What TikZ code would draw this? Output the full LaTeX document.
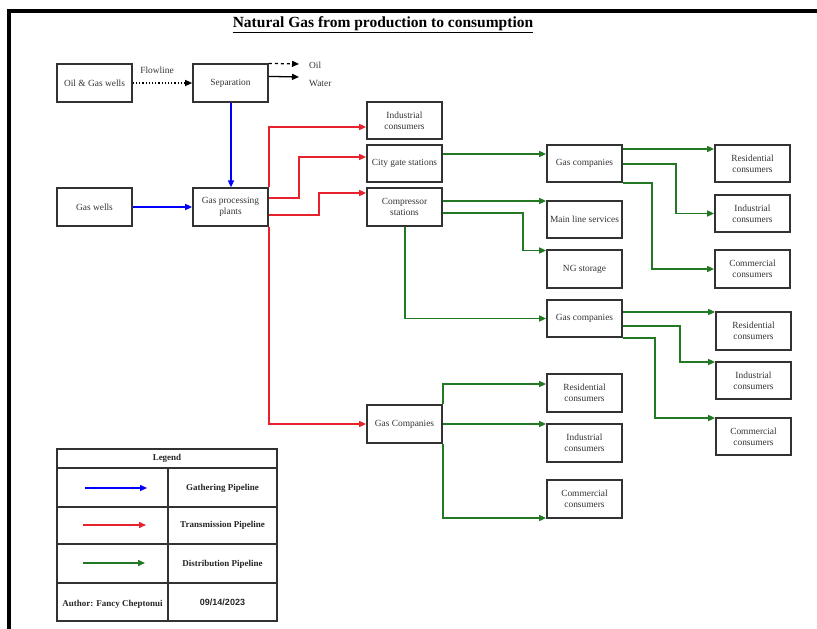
\documentclass[tikz,border=0pt]{standalone}
\usepackage{fontspec}
\setmainfont{Liberation Serif}
\newfontfamily\datefont{Liberation Sans}
\usetikzlibrary{arrows.meta,calc}
\definecolor{bxline}{RGB}{50,50,50}
\definecolor{gblue}{RGB}{0,0,255}
\definecolor{tred}{RGB}{230,35,45}
\definecolor{dgreen}{RGB}{35,120,35}
\tikzset{
  box/.style={draw=bxline, line width=1.7pt, minimum width=75pt, minimum height=37.5pt,
    inner sep=1pt, align=center, font=\fontsize{9.4}{10.8}\selectfont, text=black!80},
  conn/.style={line width=1.5pt, -{Triangle[length=7pt,width=6pt]}},
  gath/.style={conn, draw=gblue},
  trans/.style={conn, draw=tred},
  dist/.style={conn, draw=dgreen},
  lbl/.style={font=\fontsize{9.4}{10.8}\selectfont, text=black!80, inner sep=0pt},
  legtext/.style={font=\bfseries\fontsize{9}{10}\selectfont, text=black!85, inner sep=0pt},
}
\begin{document}
\begin{tikzpicture}[x=1pt,y=-1pt]
\useasboundingbox (0,0) rectangle (817,629);
% frame
\draw[line width=4pt] (817,11.3) -- (6.8,11.3);
\draw[line width=4pt] (8.8,9.3) -- (8.8,629);
% title
\node[font=\bfseries\fontsize{15.5}{17}\selectfont, inner sep=0pt] (title) at (383,25) {\underline{Natural Gas from production to consumption}};
% boxes
\node[box] (ogw) at (94.5,83) {Oil \& Gas wells};
\node[box] (sep) at (230.5,83) {Separation};
\node[box] (gw) at (94.5,207) {Gas wells};
\node[box] (gpp) at (230.5,207) {Gas processing\\plants};
\node[box] (ic1) at (404.5,120.5) {Industrial\\consumers};
\node[box] (cgs) at (404.5,163.5) {City gate stations};
\node[box] (cs) at (404.5,207) {Compressor\\stations};
\node[box] (gc1) at (584.5,163.5) {Gas companies};
\node[box] (res1) at (752.5,163.5) {Residential\\consumers};
\node[box] (ind1) at (752.5,213.5) {Industrial\\consumers};
\node[box] (mls) at (584.5,219.5) {Main line services};
\node[box] (ngs) at (584.5,269) {NG storage};
\node[box] (com1) at (752.5,269) {Commercial\\consumers};
\node[box] (gc2) at (584.5,318.5) {Gas companies};
\node[box] (res2) at (753.5,331) {Residential\\consumers};
\node[box] (ind2) at (753.5,380.5) {Industrial\\consumers};
\node[box] (com2) at (753.5,436.5) {Commercial\\consumers};
\node[box] (gc3) at (404.5,424) {Gas Companies};
\node[box] (res3) at (584.5,393) {Residential\\consumers};
\node[box] (ind3) at (584.5,443) {Industrial\\consumers};
\node[box] (com3) at (584.5,499) {Commercial\\consumers};
% flowline
\draw[line width=1.2pt, dotted, -{Triangle[length=7pt,width=6pt]}] (ogw.east) -- (sep.west);
\node[lbl] (flow) at (157,70) {Flowline};
% oil / water
\coordinate (oilend) at (299,64);
\coordinate (waterend) at (299,77);
\draw[line width=1.3pt, dashed, -{Triangle[length=7pt,width=6pt]}] (sep.north east) -- (oilend);
\draw[line width=1.3pt, -{Triangle[length=7pt,width=6pt]}] ([yshift=-13pt]sep.north east) -- (waterend);
\node[lbl, anchor=west] (oil) at (309,65) {Oil};
\node[lbl, anchor=west] (water) at (309,83) {Water};
% gathering
\draw[gath] ([xshift=0.5pt]sep.south) -- ([xshift=0.5pt]gpp.north);
\draw[gath] (gw.east) -- (gpp.west);
% transmission
\draw[trans] (gpp.north east) |- ([yshift=-6.5pt]ic1.west);
\draw[trans] (gpp.south east) |- (gc3.west);
\draw[trans] ([yshift=9pt]gpp.east) -- ++(30,0) |- ([yshift=6.5pt]cgs.west);
\draw[trans] ([yshift=-8pt]gpp.east) -- ++(50,0) |- ([yshift=14pt]cs.west);
% distribution
\draw[dist] ([yshift=9.5pt]cgs.east) -- ([yshift=9.5pt]gc1.west);
\draw[dist] ([yshift=14.5pt]gc1.east) -- ([yshift=14.5pt]res1.west);
\draw[dist] ([yshift=-0.5pt]gc1.east) -- ++(53,0) |- (ind1.west);
\draw[dist] (gc1.south east) -- ++(29,0) |- (com1.west);
\draw[dist] ([yshift=6pt]cs.east) -- ([yshift=6pt]cs.east -| mls.west);
\draw[dist] ([yshift=-6pt]cs.east) -- ++(80,0) |- ([yshift=18.5pt]ngs.west);
\draw[dist] ([xshift=0.5pt]cs.south) |- (gc2.west);
\draw[dist] ([yshift=6.5pt]gc2.east) -- ([yshift=6.5pt]gc2.east -| res2.west);
\draw[dist] ([yshift=-7.5pt]gc2.east) -- ++(57,0) |- ([yshift=18.5pt]ind2.west);
\draw[dist] (gc2.south east) -- ++(32,0) |- ([yshift=18.5pt]com2.west);
\draw[dist] (gc3.north east) |- ([yshift=9pt]res3.west);
\draw[dist] (gc3.east) -- (gc3.east -| ind3.west);
\draw[dist] (gc3.south east) |- ([yshift=-19pt]com3.west);
% legend
\draw[bxline, line width=1.5pt] (57,449) rectangle (277,621);
\draw[bxline, line width=1.3pt] (57,468) -- (277,468);
\draw[bxline, line width=1.3pt] (57,507) -- (277,507);
\draw[bxline, line width=1.3pt] (57,544) -- (277,544);
\draw[bxline, line width=1.3pt] (57,583) -- (277,583);
\draw[bxline, line width=1.3pt] (168,468) -- (168,621);
\node[legtext] (leg) at (167,458.5) {Legend};
\coordinate (lb1) at (85,488); \coordinate (lb2) at (147,488);
\coordinate (lr1) at (83,525); \coordinate (lr2) at (146,525);
\coordinate (lg1) at (83,563); \coordinate (lg2) at (145,563);
\draw[gath] (lb1) -- (lb2);
\draw[trans] (lr1) -- (lr2);
\draw[dist] (lg1) -- (lg2);
\node[legtext] (gat) at (222.5,488) {Gathering Pipeline};
\node[legtext] (tra) at (222.5,525.5) {Transmission Pipeline};
\node[legtext] (dis) at (222.5,564) {Distribution Pipeline};
\node[legtext] (auth) at (112.5,604) {Author: Fancy Cheptonui};
\node[font=\datefont\bfseries\fontsize{9}{10}\selectfont, text=black!85, inner sep=0pt] (date) at (222.5,602) {09/14/2023};
\end{tikzpicture}
\end{document}
